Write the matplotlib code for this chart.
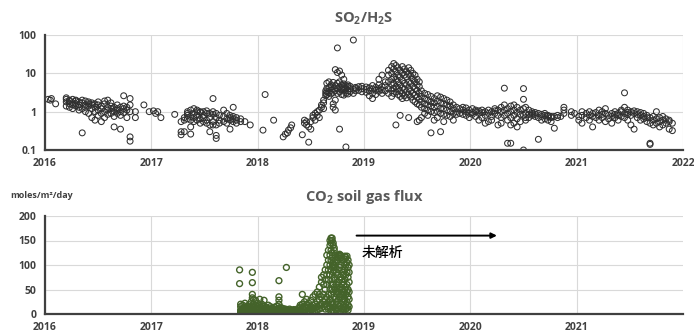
import matplotlib
matplotlib.use('Agg')
import matplotlib.pyplot as plt

plt.rcParams['font.family'] = ['Open Sans', 'DejaVu Sans']
plt.rcParams['mathtext.fontset'] = 'custom'
plt.rcParams['mathtext.rm'] = 'Open Sans:bold'
plt.rcParams['mathtext.it'] = 'Open Sans:bold'

# SO2/H2S ratio: sampling date (decimal year) -> values observed around that date
so2_dates = [
    2016.03, 2016.05, 2016.06, 2016.10,
    2016.20, 2016.23, 2016.26, 2016.29, 2016.32, 2016.35, 2016.38, 2016.41,
    2016.44, 2016.47, 2016.50, 2016.53, 2016.56, 2016.59, 2016.62, 2016.65,
    2016.68, 2016.71, 2016.74, 2016.77, 2016.80, 2016.85, 2016.93,
    2016.98, 2017.02, 2017.04, 2017.06, 2017.09, 2017.22,
    2017.28, 2017.31, 2017.34, 2017.37, 2017.40, 2017.43, 2017.46, 2017.49,
    2017.52, 2017.55, 2017.58, 2017.61, 2017.64, 2017.68, 2017.71, 2017.74,
    2017.77, 2017.80, 2017.84, 2017.88, 2017.93,
    2018.05, 2018.07, 2018.15, 2018.24, 2018.26, 2018.28, 2018.29, 2018.31, 2018.32,
    2018.42, 2018.44, 2018.46, 2018.48, 2018.50, 2018.52, 2018.54, 2018.56,
    2018.58, 2018.60, 2018.62, 2018.64,
    2018.65, 2018.67, 2018.69, 2018.71, 2018.73, 2018.75, 2018.77, 2018.79,
    2018.81, 2018.83, 2018.85, 2018.87, 2018.90, 2018.92, 2018.95, 2018.98,
    2019.02, 2019.05, 2019.08, 2019.11, 2019.14, 2019.17, 2019.20, 2019.23,
    2019.26, 2019.28, 2019.30, 2019.32, 2019.34, 2019.36, 2019.38, 2019.40,
    2019.42, 2019.44, 2019.46, 2019.48, 2019.50, 2019.52, 2019.54,
    2019.57, 2019.60, 2019.63, 2019.66, 2019.69, 2019.72, 2019.75, 2019.78,
    2019.81, 2019.84, 2019.87, 2019.90, 2019.93,
    2019.96, 2019.99, 2020.02, 2020.05, 2020.08, 2020.11, 2020.14, 2020.17,
    2020.20, 2020.23, 2020.26, 2020.29, 2020.32, 2020.35, 2020.38, 2020.41,
    2020.44, 2020.47, 2020.50, 2020.52, 2020.55,
    2020.58, 2020.61, 2020.64, 2020.67, 2020.70, 2020.73, 2020.76, 2020.79,
    2020.82, 2020.85, 2020.88, 2020.95, 2020.98,
    2021.02, 2021.05, 2021.09, 2021.12, 2021.15, 2021.18, 2021.21, 2021.24,
    2021.27, 2021.30, 2021.33, 2021.36, 2021.39, 2021.42, 2021.45, 2021.48,
    2021.51, 2021.54, 2021.57, 2021.60, 2021.63, 2021.66, 2021.69, 2021.72,
    2021.75, 2021.78, 2021.81, 2021.84, 2021.87, 2021.90, 2021.93,
]
so2_values = [
    [2.1], [2.0], [2.2], [1.6],
    [2.3, 2.1, 1.4, 1.8], [2.0, 1.6, 1.3, 1.9], [2.1, 1.5, 1.7, 1.2], [1.9, 1.6, 1.4, 2.0],
    [1.8, 1.3, 1.5, 1.1], [2.0, 1.7, 1.2, 0.28], [1.9, 1.5, 1.0, 1.3], [1.8, 1.4, 1.6, 0.9],
    [1.7, 1.2, 0.7, 1.5], [1.6, 1.3, 0.6, 1.0], [1.5, 1.1, 0.8, 1.8], [1.4, 1.2, 0.9, 0.55],
    [1.6, 1.0, 1.9, 0.7], [2.0, 1.3, 0.85, 1.1], [1.7, 1.4, 0.9, 1.2], [1.3, 1.0, 0.75, 0.4],
    [1.5, 1.2, 0.9, 1.1], [1.3, 1.0, 0.35, 0.8], [2.6, 1.2, 0.95, 1.4], [1.1, 1.3, 0.7],
    [2.2, 1.5, 0.22, 0.17, 1.0], [1.0, 0.7], [1.5],
    [1.0], [1.05], [0.9], [1.0], [0.7], [0.85],
    [0.25, 0.3, 0.55], [0.3, 0.6, 0.7], [0.65, 0.8, 1.0, 0.9], [0.26, 0.4, 0.75, 1.1, 0.6],
    [0.9, 1.2, 0.7, 0.55], [1.0, 0.8, 0.6, 1.1], [0.65, 0.95, 0.5, 1.0], [0.8, 0.55, 1.0, 0.7],
    [0.9, 0.5, 0.6, 1.05], [0.45, 0.7, 0.9, 0.3], [2.2, 0.85, 0.55, 1.0, 0.45],
    [0.7, 0.45, 0.9, 0.2, 0.24], [0.6, 0.8, 0.5], [0.55, 0.75, 1.1], [0.65, 0.9, 0.5],
    [0.7, 0.6, 0.8, 0.35], [0.75, 0.55, 1.3, 0.65], [0.6, 0.7, 0.5], [0.55, 0.65], [0.55], [0.45],
    [0.33], [2.8], [0.6], [0.22], [0.26], [0.28], [0.33], [0.38], [0.45],
    [0.25], [0.5, 0.6], [0.45, 0.55], [0.16, 0.4], [0.35, 0.55], [0.8, 0.7], [0.9, 0.6],
    [1.0, 0.8], [1.1, 0.7], [1.3, 1.5], [1.7, 1.2, 2.0],
    [3.0, 2.6, 3.5], [3.3, 4.0, 2.8, 5.5], [4.2, 3.1, 6.0, 2.5], [3.6, 5.0, 2.9, 4.5],
    [4.0, 3.2, 5.8, 1.3, 1.6], [12.5, 4.8, 3.5, 1.1, 2.0], [46, 10.5, 4.0, 5.5, 3.0],
    [11.5, 4.5, 3.3, 6.0, 0.35], [9.0, 5.0, 3.8, 2.8, 4.2], [7.0, 4.5, 3.6, 5.3, 2.7],
    [0.12, 4.8, 3.9, 3.0], [4.5, 3.5, 5.0, 2.9], [4.0, 3.3, 4.6], [74, 3.8, 3.0],
    [4.3, 3.5, 4.0], [3.6, 4.5],
    [4.0, 3.3, 4.6], [3.8, 4.4, 3.2], [4.2, 3.5, 2.6], [3.9, 4.8, 3.0, 2.2],
    [4.3, 3.6, 2.8], [5.0, 4.0, 3.4, 7.0], [4.5, 3.7, 9.0, 3.0], [4.8, 6.0, 3.5],
    [12, 9, 6, 4, 3], [15, 10, 7, 5, 3.5, 2.5], [18, 13, 8, 5.5, 4, 3],
    [16, 11, 7, 4.5, 3.3, 0.45], [14, 9, 6, 4, 2.8], [12, 8, 5, 3.5, 2.5, 0.8],
    [15, 10, 6.5, 4.2, 3.0, 2.2], [13, 9, 5.5, 3.8, 2.6], [11, 8, 5, 3.3, 2.3],
    [14, 9.5, 6, 4, 2.8, 0.7], [12, 8.5, 5.5, 3.5, 2.4], [10, 7, 4.5, 3.0, 2.0],
    [9, 6, 4, 2.7, 1.8], [7, 5, 3.5, 2.4, 1.6, 0.55], [6, 4.5, 3, 2.1, 1.5, 0.6],
    [3.5, 2.5, 1.8, 1.3, 0.7], [3.0, 2.2, 1.6, 1.2, 0.9], [2.8, 2.0, 1.5, 1.1, 0.8],
    [2.5, 1.8, 1.4, 1.0, 0.28], [2.2, 1.7, 1.3, 0.95, 0.6], [2.6, 1.9, 1.4, 1.0, 0.7],
    [2.4, 1.7, 1.2, 0.9, 0.3], [2.2, 1.6, 1.2, 0.85, 0.55], [2.0, 1.5, 1.1, 0.8],
    [1.8, 1.4, 1.0, 0.75], [1.5, 1.2, 0.9, 0.6], [1.3, 1.0, 0.85], [1.2, 0.9],
    [1.1, 0.85, 1.3], [1.0, 0.8, 1.25], [1.1, 0.7, 0.9], [1.2, 0.95, 0.85],
    [1.0, 0.75, 1.1], [1.05, 0.9, 0.6], [0.95, 1.1, 0.7], [1.0, 0.5, 0.8],
    [1.1, 0.9, 0.55], [1.0, 0.75, 0.6], [1.2, 0.9, 1.05], [1.1, 0.8, 0.45],
    [1.3, 1.0, 0.7, 0.5], [4.1, 1.5, 1.1, 0.8], [1.2, 0.9, 0.6, 0.15],
    [1.4, 1.0, 0.7, 0.15, 0.45], [1.5, 1.1, 0.8, 0.5], [1.3, 0.95, 0.65, 0.4],
    [1.1, 0.85, 0.55], [4.0, 2.1, 1.2, 0.1, 0.8], [1.3, 0.9, 0.7, 0.6],
    [1.1, 0.85, 0.7], [1.0, 0.8, 0.9], [0.95, 0.75, 0.85], [0.9, 0.7, 0.19],
    [0.85, 0.75, 0.6], [0.8, 0.65, 0.9], [0.75, 0.6, 0.8], [0.7, 0.55, 0.75],
    [0.75, 0.37], [0.7, 0.8], [0.75], [1.3, 1.1, 0.9], [1.0, 0.8],
    [0.9], [0.75, 0.6], [1.0, 0.8, 0.5], [0.9, 0.7], [0.8, 1.0, 0.6], [0.9, 0.75, 0.4],
    [0.95, 0.7], [1.1, 0.8, 0.6], [0.85, 0.7, 1.0], [0.9, 1.2, 0.55], [0.8, 0.65],
    [0.75, 0.9, 0.5], [0.85, 1.0, 0.7], [0.9, 0.8, 0.6], [1.0, 0.75, 1.1],
    [3.1, 1.3, 0.9, 0.7], [1.1, 0.85, 0.95, 0.6], [1.0, 0.8, 0.45], [0.9, 1.05, 0.35],
    [0.85, 0.7, 1.0], [0.8, 0.95, 0.6], [0.75, 0.65, 0.9], [0.8, 0.55, 0.7],
    [0.14, 0.15, 0.7, 0.5], [0.6, 0.75, 0.45], [1.0, 0.65, 0.5], [0.55, 0.7, 0.4],
    [0.6, 0.45, 0.75], [0.65, 0.5], [0.55, 0.35, 0.6], [0.32, 0.5],
]

# CO2 soil gas flux (moles/m2/day)
co2_dates = [
    2017.83, 2017.95, 2018.20, 2018.27,
    2017.84, 2017.86, 2017.88, 2017.90, 2017.92, 2017.94, 2017.96, 2017.98,
    2018.00, 2018.02, 2018.04, 2018.06, 2018.08, 2018.10, 2018.12, 2018.14,
    2018.16, 2018.18, 2018.20, 2018.22, 2018.24, 2018.26, 2018.28, 2018.30,
    2018.32, 2018.34, 2018.36, 2018.38, 2018.40, 2018.42, 2018.44, 2018.46,
    2018.48, 2018.50, 2018.52, 2018.54, 2018.56, 2018.58, 2018.60, 2018.62,
    2018.635, 2018.65, 2018.665, 2018.68, 2018.69, 2018.70, 2018.71, 2018.72,
    2018.73, 2018.74, 2018.75, 2018.76, 2018.77, 2018.78, 2018.79, 2018.80,
    2018.81, 2018.82, 2018.83, 2018.84, 2018.85, 2018.86,
]
co2_values = [
    [90, 62], [85, 64, 40, 33], [68, 35, 28], [95],
    [15, 8, 3, 0, 20, 5], [12, 6, 2, 18, 9], [10, 4, 1, 14, 7, 22], [16, 8, 3, 11, 0],
    [13, 5, 2, 19, 9], [10, 6, 1, 25, 15], [14, 7, 3, 30, 20], [12, 5, 2, 28, 18, 9],
    [15, 8, 3, 22, 11], [10, 4, 1, 17, 30], [13, 6, 2, 9, 20], [12, 5, 0, 16, 28],
    [9, 4, 2, 14, 7], [11, 6, 1, 18], [10, 3, 15, 7], [8, 2, 12, 5],
    [9, 4, 14, 1], [10, 3, 16, 6], [12, 5, 20, 2], [9, 3, 13, 6],
    [8, 2, 11, 4], [7, 3, 10, 1], [6, 2, 9], [7, 3, 10, 1],
    [5, 2, 8], [6, 1, 9, 3], [5, 2, 8], [7, 3, 11, 1],
    [9, 4, 14, 18], [12, 6, 20, 40, 2], [15, 8, 25, 3], [12, 5, 20, 30],
    [14, 7, 22, 2], [16, 9, 28, 4], [18, 10, 35, 5], [20, 12, 40, 6],
    [25, 15, 45, 8], [30, 18, 55, 10, 40], [35, 20, 65, 75, 12], [40, 25, 60, 80, 15],
    [50, 30, 90, 70, 20, 10], [60, 35, 100, 120, 80, 15], [70, 40, 110, 130, 90, 25, 10],
    [80, 50, 120, 140, 150, 100, 30, 15], [90, 60, 130, 145, 155, 110, 40, 20, 5],
    [95, 70, 125, 150, 155, 115, 50, 25, 8], [85, 60, 110, 140, 145, 100, 45, 20, 5],
    [75, 55, 100, 130, 135, 90, 35, 15, 3], [70, 50, 95, 120, 110, 30, 10],
    [60, 45, 85, 105, 25, 8], [55, 40, 80, 110, 115, 20, 5],
    [65, 45, 90, 115, 120, 30, 10], [70, 50, 95, 118, 122, 35, 15, 2],
    [75, 55, 100, 120, 40, 20, 5], [70, 50, 90, 115, 35, 12], [65, 45, 85, 110, 30, 10],
    [60, 40, 80, 105, 25, 8], [70, 50, 90, 112, 118, 30, 15], [80, 55, 100, 115, 40, 20, 10],
    [85, 60, 105, 118, 45, 25, 12], [75, 50, 95, 110, 35, 18, 8], [65, 45, 85, 100, 30, 15],
]

years = [2016, 2017, 2018, 2019, 2020, 2021, 2022]


def expand(dates, values):
    xs, ys = [], []
    for d, vals in zip(dates, values):
        for v in vals:
            xs.append(d)
            ys.append(v)
    return xs, ys


def style_axis(ax):
    for side in ['top', 'right']:
        ax.spines[side].set_visible(False)
    ax.spines['left'].set_color('#404040')
    ax.spines['left'].set_linewidth(1.6)
    ax.spines['bottom'].set_color('#404040')
    ax.spines['bottom'].set_linewidth(1.6)
    ax.grid(True, color='#d9d9d9', linewidth=0.8)
    ax.set_axisbelow(True)
    ax.tick_params(length=0, labelsize=7.5, labelcolor='#404040', pad=6)
    for lbl in ax.get_xticklabels() + ax.get_yticklabels():
        lbl.set_fontweight('bold')


fig = plt.figure(figsize=(6.94, 3.36), dpi=100)
ax1 = fig.add_axes([45 / 694, 1 - 150 / 336, 638 / 694, 115 / 336])
ax2 = fig.add_axes([45 / 694, 1 - 314 / 336, 638 / 694, 98 / 336])

x, y = expand(so2_dates, so2_values)
ax1.scatter(x, y, s=18, facecolors='none', edgecolors='#303030', linewidths=0.75)
ax1.set_yscale('log')
ax1.set_ylim(0.1, 100)
ax1.set_yticks([0.1, 1, 10, 100])
ax1.set_yticklabels(['0.1', '1', '10', '100'])
ax1.minorticks_off()
ax1.set_xlim(2016, 2022)
ax1.set_xticks(years)
ax1.set_xticklabels([str(v) for v in years])
style_axis(ax1)
ax1.set_title(r'SO$_2$/H$_2$S', fontsize=10.5, fontweight='bold', color='#595959', pad=9)

x, y = expand(co2_dates, co2_values)
ax2.scatter(x, y, s=18, facecolors='none', edgecolors='#44632a', linewidths=1.0)
ax2.set_ylim(0, 200)
ax2.set_yticks([0, 50, 100, 150, 200])
ax2.set_xlim(2016, 2022)
ax2.set_xticks(years[:-1])
ax2.set_xticklabels([str(v) for v in years[:-1]])
style_axis(ax2)
ax2.set_title(r'CO$_2$ soil gas flux', fontsize=10.5, fontweight='bold', color='#595959', pad=11)

ax2.annotate('', xy=(2020.25, 160), xytext=(2018.93, 160),
             arrowprops=dict(arrowstyle='-|>', color='black', lw=1.4,
                             mutation_scale=8, shrinkA=0, shrinkB=0))
ax2.text(2018.98, 125, '未解析', fontsize=10, color='black', va='center',
         fontweight='medium', family=['Noto Sans CJK JP', 'DejaVu Sans'])

fig.text(10 / 694, 1 - 195 / 336, 'moles/m²/day', fontsize=6.5, fontweight='bold',
         color='#404040', va='center')

fig.savefig('out.png', dpi=100)
